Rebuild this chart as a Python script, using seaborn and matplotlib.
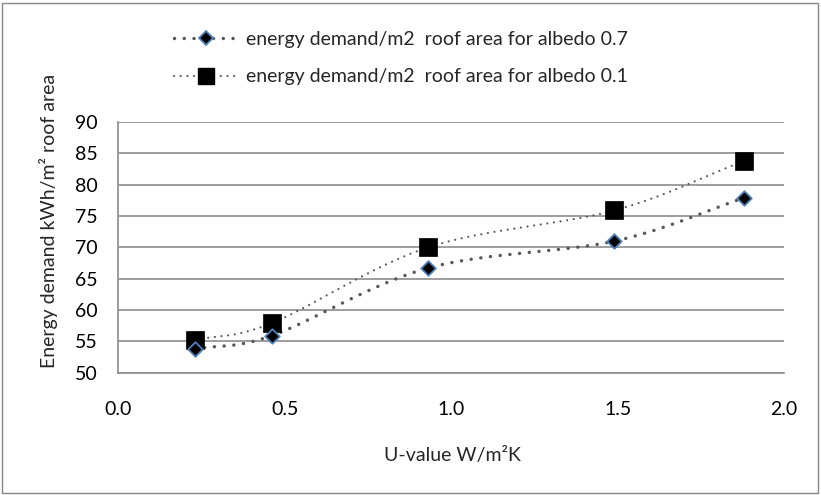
import numpy as np
import matplotlib
matplotlib.use("Agg")
import matplotlib.pyplot as plt
import seaborn as sns
from matplotlib.lines import Line2D
from matplotlib.patches import Rectangle

# values
u_value = [0.23, 0.46, 0.93, 1.49, 1.88]
demand_albedo_07 = [53.8, 55.9, 66.7, 71.0, 77.9]
demand_albedo_01 = [55.2, 57.9, 70.0, 75.9, 83.8]
label_07 = "energy demand/m2  roof area for albedo 0.7"
label_01 = "energy demand/m2  roof area for albedo 0.1"
x_ticks = [0.0, 0.5, 1.0, 1.5, 2.0]
y_ticks = [50, 55, 60, 65, 70, 75, 80, 85, 90]


def smooth(xs, ys, n=40):
    # Catmull-Rom curve through the points, like a smoothed spreadsheet line
    px = np.array(xs, dtype=float)
    py = np.array(ys, dtype=float)
    px = np.concatenate([[2 * px[0] - px[1]], px, [2 * px[-1] - px[-2]]])
    py = np.concatenate([[2 * py[0] - py[1]], py, [2 * py[-1] - py[-2]]])
    out_x, out_y = [], []
    t = np.linspace(0, 1, n)
    for i in range(1, len(px) - 2):
        for p, out in ((px, out_x), (py, out_y)):
            p0, p1, p2, p3 = p[i - 1], p[i], p[i + 1], p[i + 2]
            seg = 0.5 * ((2 * p1) + (-p0 + p2) * t
                         + (2 * p0 - 5 * p1 + 4 * p2 - p3) * t ** 2
                         + (-p0 + 3 * p1 - 3 * p2 + p3) * t ** 3)
            out.extend(seg)
    return out_x, out_y


sns.set_style("white")
plt.rcParams['font.family'] = ['Lato', 'DejaVu Sans']
fs = 14

fig = plt.figure(figsize=(8.21, 4.95), dpi=100)
ax = fig.add_axes([0.1443, 0.247, 0.8107, 0.5065])

grey = "#595959"
grid_c = "#8c8c8c"

sx, sy = smooth(u_value, demand_albedo_07)
ax.plot(sx, sy, color=grey, lw=2.5, linestyle=(0, (0.01, 2.8)),
        dash_capstyle="round", zorder=2)
sx, sy = smooth(u_value, demand_albedo_01)
ax.plot(sx, sy, color=grey, lw=1.6, linestyle=(0, (0.01, 3.0)),
        dash_capstyle="round", zorder=2)

sns.scatterplot(x=u_value, y=demand_albedo_07, marker="D", s=55, color="black",
                edgecolor="#4F81BD", linewidth=1.3, ax=ax, zorder=4)
sns.scatterplot(x=u_value, y=demand_albedo_01, marker="s", s=150, color="black",
                edgecolor="black", linewidth=0.5, ax=ax, zorder=3)

ax.set_xlim(0, 2.0)
ax.set_ylim(50, 90)
ax.set_xticks(x_ticks)
ax.set_xticklabels([f"{v:.1f}" for v in x_ticks])
ax.set_yticks(y_ticks)
ax.yaxis.grid(True, color=grid_c, lw=1.2)
ax.xaxis.grid(False)
ax.set_axisbelow(True)
for s in ["top", "right"]:
    ax.spines[s].set_visible(False)
for s in ["left", "bottom"]:
    ax.spines[s].set_color(grid_c)
    ax.spines[s].set_linewidth(1.2)
ax.tick_params(axis="both", direction="out", length=5, width=1.2,
               color=grid_c, labelsize=fs, labelcolor="black")
ax.tick_params(axis="y", pad=10)
ax.tick_params(axis="x", pad=15)

fig.text(0.551, 1 - 455 / 495, "U-value W/m\u00b2K", ha="center", va="center",
         fontsize=fs)
fig.text(48 / 821, 1 - 221 / 495, "Energy demand kWh/m\u00b2 roof area",
         ha="center", va="center", rotation=90, fontsize=fs)

handles = [
    Line2D([], [], color=grey, lw=2.5, linestyle=(0, (0.01, 2.8)),
           dash_capstyle="round", marker="D", markersize=7,
           markerfacecolor="black", markeredgecolor="#4F81BD", markeredgewidth=1.3),
    Line2D([], [], color=grey, lw=1.6, linestyle=(0, (0.01, 3.0)),
           dash_capstyle="round", marker="s", markersize=11,
           markerfacecolor="black", markeredgecolor="black"),
]
fig.legend(handles, [label_07, label_01], loc="upper left",
           bbox_to_anchor=(174 / 821, 1 - 31 / 495), frameon=False,
           fontsize=fs, handlelength=3.3, handletextpad=0.4,
           labelspacing=1.05, borderpad=0, borderaxespad=0, numpoints=1)

fig.patches.append(Rectangle((2 / 821, 2 / 495), 816 / 821, 490 / 495,
                             transform=fig.transFigure, fill=False,
                             edgecolor="#868686", lw=1.0))

fig.savefig("out.png", dpi=100)
